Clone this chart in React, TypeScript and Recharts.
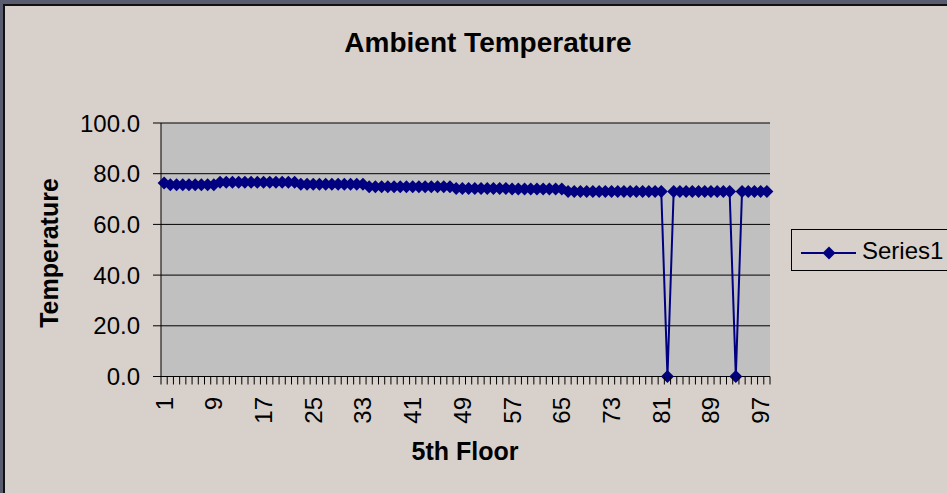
import { CartesianGrid, Line, LineChart, XAxis, YAxis } from 'recharts';

// 5th floor readings, one per sample (1..98)
const floors = Array.from({ length: 98 }, (_, i) => String(i + 1));

const temps = [
    76.3,
    75.6, 75.6, 75.6, 75.6, 75.6, 75.6, 75.6, 75.6,
    76.6, 76.6, 76.6, 76.6, 76.6, 76.6, 76.6, 76.6, 76.6, 76.6, 76.6, 76.6, 76.6,
    75.8, 75.8, 75.8, 75.8, 75.8, 75.8, 75.8, 75.8, 75.8, 75.8, 75.8,
    74.9, 74.9, 74.9, 74.9, 74.9, 74.9, 74.9, 74.9, 74.9, 74.9, 74.9, 74.9, 74.9, 74.9,
    74.2, 74.2, 74.2, 74.2, 74.2, 74.2, 74.2, 74.2, 74.2, 74.0, 74.0, 74.0, 74.0, 74.0, 74.0, 74.0, 74.0, 74.0,
    73.0, 73.0, 73.0, 73.0, 73.0, 73.0, 73.0, 73.0, 73.0, 73.0, 73.0, 73.0, 73.0, 73.0, 73.0, 73.0,
    0,
    73.0, 73.0, 73.0, 73.0, 73.0, 73.0, 73.0, 73.0, 73.0, 73.0,
    0,
    73.0, 73.0, 73.0, 73.0, 73.0,
];

const yTicks = [0, 20, 40, 60, 80, 100];

const data = floors.map((floor, i) => ({ floor, value: temps[i] }));

const FONT = '"Liberation Sans", Arial, sans-serif';
const PLOT_LEFT = 161;
const PLOT_RIGHT = 770;
const PLOT_BOTTOM = 376.5;
const STEP = (PLOT_RIGHT - PLOT_LEFT) / floors.length;

function Diamond({ cx, cy }: any) {
    if (cx == null || cy == null) return null;
    const r = 6.5;
    return (
        <polygon
            points={`${cx},${cy - r} ${cx + r},${cy} ${cx},${cy + r} ${cx - r},${cy}`}
            fill="#000080"
        />
    );
}

function FloorTick({ x, index, payload }: any) {
    const left = x - STEP / 2;
    return (
        <g>
            <line x1={left} y1={PLOT_BOTTOM} x2={left} y2={PLOT_BOTTOM + 8} stroke="#000" />
            {index === floors.length - 1 && (
                <line x1={x + STEP / 2} y1={PLOT_BOTTOM} x2={x + STEP / 2} y2={PLOT_BOTTOM + 8} stroke="#000" />
            )}
            {index % 8 === 0 && (
                <text
                    x={x}
                    y={397}
                    transform={`rotate(-90 ${x} 397)`}
                    textAnchor="end"
                    dominantBaseline="central"
                    fontSize={24}
                    fontFamily={FONT}
                    fill="#000"
                >
                    {payload.value}
                </text>
            )}
        </g>
    );
}

export default function App() {
    return (
        <div style={{ position: 'absolute', left: 0, top: 0, width: 947, height: 493, overflow: 'hidden', background: '#585c6e' }}>
            <div
                style={{
                    position: 'absolute',
                    left: 3,
                    top: 4,
                    width: 980,
                    height: 520,
                    background: '#d8d0ca',
                    borderLeft: '2px solid #111',
                    borderTop: '2px solid #111',
                }}
            />
            <div style={{ position: 'absolute', left: 0, top: 0 }}>
                <LineChart width={947} height={493} data={data} margin={{ top: 123, right: 177, bottom: 0, left: 0 }}>
                    <CartesianGrid vertical={false} stroke="#000" fill="#c0c0c0" />
                    <XAxis
                        dataKey="floor"
                        type="category"
                        scale="point"
                        padding={{ left: STEP / 2, right: STEP / 2 }}
                        interval={0}
                        tickLine={false}
                        axisLine={{ stroke: '#000' }}
                        height={116.5}
                        tick={<FloorTick />}
                    />
                    <YAxis
                        domain={[0, 100]}
                        ticks={yTicks}
                        tickFormatter={(v: number) => v.toFixed(1)}
                        tick={{ fill: '#000', fontSize: 24, fontFamily: FONT }}
                        axisLine={{ stroke: '#000' }}
                        tickLine={{ stroke: '#000' }}
                        tickSize={8}
                        tickMargin={13}
                        width={161}
                    />
                    <YAxis
                        yAxisId="right"
                        orientation="right"
                        domain={[0, 100]}
                        width={0}
                        tick={false}
                        tickLine={false}
                        axisLine={{ stroke: '#808080' }}
                    />
                    <Line
                        type="linear"
                        dataKey="value"
                        stroke="#000080"
                        strokeWidth={2}
                        dot={<Diamond />}
                        activeDot={false}
                        isAnimationActive={false}
                    />
                </LineChart>
            </div>
            <svg width={947} height={493} style={{ position: 'absolute', left: 0, top: 0, pointerEvents: 'none' }} fontFamily={FONT}>
                <text x={488} y={52} textAnchor="middle" fontSize={28} fontWeight="bold" fill="#000">
                    Ambient Temperature
                </text>
                <text x={465} y={460} textAnchor="middle" fontSize={25} fontWeight="bold" fill="#000">
                    5th Floor
                </text>
                <text
                    x={0}
                    y={0}
                    transform="translate(58 253) rotate(-90)"
                    textAnchor="middle"
                    fontSize={25}
                    fontWeight="bold"
                    fill="#000"
                >
                    Temperature
                </text>
                <rect x={791.5} y={229.5} width={200} height={41} fill="none" stroke="#000" />
                <line x1={801} y1={253} x2={856} y2={253} stroke="#000080" strokeWidth={2} />
                <polygon points="829,246.5 835.5,253 829,259.5 822.5,253" fill="#000080" />
                <text x={862} y={259} fontSize={24} fill="#000">
                    Series1
                </text>
            </svg>
        </div>
    );
}
